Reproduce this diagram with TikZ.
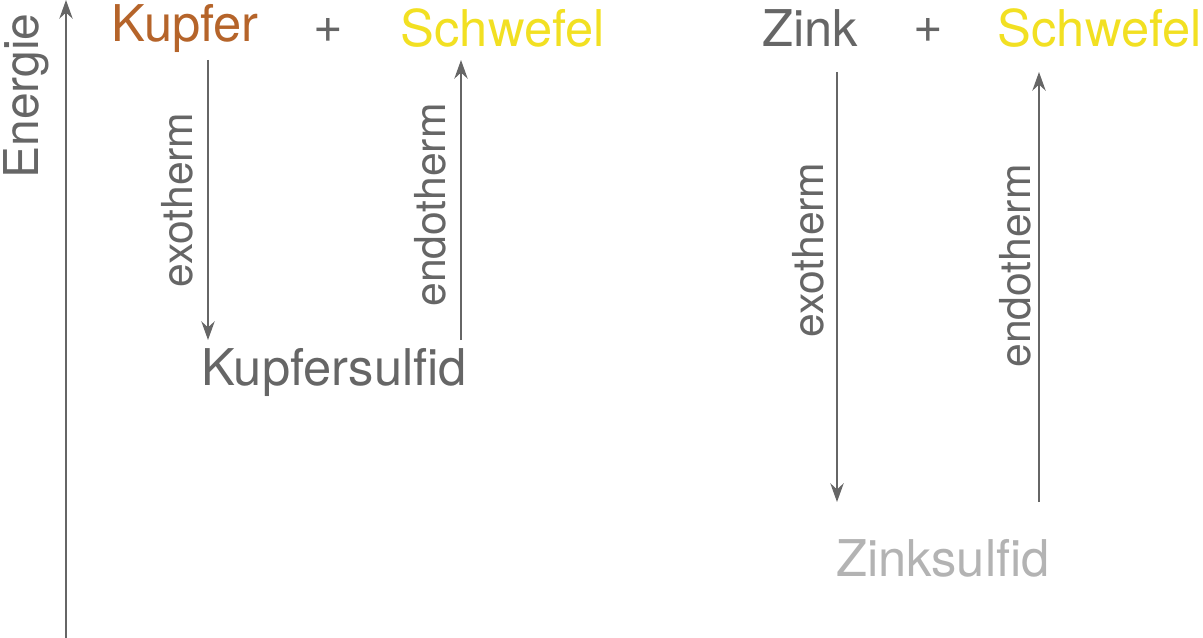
\documentclass[tikz,border=0pt]{standalone}
\usepackage{fontspec}
\setmainfont{TeX Gyre Heros}
\usepackage{tikz}
\usetikzlibrary{arrows.meta}
\definecolor{kupfer}{HTML}{B5642A}
\definecolor{schwefel}{HTML}{F2E022}
\definecolor{grau}{HTML}{666666}
\definecolor{hellgrau}{HTML}{B3B3B3}
\tikzset{
  stoff/.style={font=\fontsize{38}{40}\selectfont, inner sep=0pt},
  pfeil/.style={draw=grau, line width=1.6pt, -{Stealth[length=14pt,width=10pt]}},
  art/.style={font=\fontsize{32}{34}\selectfont, text=grau, rotate=90, inner sep=0pt}
}
\begin{document}
\begin{tikzpicture}[x=0.75pt,y=-0.75pt]
	\useasboundingbox (0,0) rectangle (1203,638);
	%
	\coordinate (e0) at (66,638);
	\coordinate (e1) at (66,0);
	\draw[pfeil] (e0) -- (e1);
	\node[art, font=\fontsize{36}{38}\selectfont] (energie) at (26,96) {Energie};
	%
	\node[stoff, text=kupfer] (cu) at (185,28) {Kupfer};
	\node[stoff, text=grau] (p1) at (328,30) {+};
	\node[stoff, text=schwefel] (s1) at (503,28) {Schwefel};
	\node[stoff, text=grau] (cus) at (334,372) {Kupfersulfid};
	\node[stoff, text=grau] (zn) at (810,28) {Zink};
	\node[stoff, text=grau] (p2) at (928,30) {+};
	\node[stoff, text=schwefel] (s2) at (1100,28) {Schwefel};
	\node[stoff, text=hellgrau] (zns) at (943,558) {Zinksulfid};
	%
	\coordinate (a1) at (208,60);
	\coordinate (a2) at (208,340);
	\coordinate (b1) at (461,340);
	\coordinate (b2) at (461,60);
	\coordinate (c1) at (837,72);
	\coordinate (c2) at (837,502);
	\coordinate (d1) at (1039,502);
	\coordinate (d2) at (1039,72);
	\draw[pfeil] (a1) -- (a2);
	\draw[pfeil] (b1) -- (b2);
	\draw[pfeil] (c1) -- (c2);
	\draw[pfeil] (d1) -- (d2);
	%
	\node[art] (exo1) at (177,200) {exotherm};
	\node[art] (endo1) at (430,205) {endotherm};
	\node[art] (exo2) at (808,250) {exotherm};
	\node[art] (endo2) at (1015,266) {endotherm};
\end{tikzpicture}
\end{document}
